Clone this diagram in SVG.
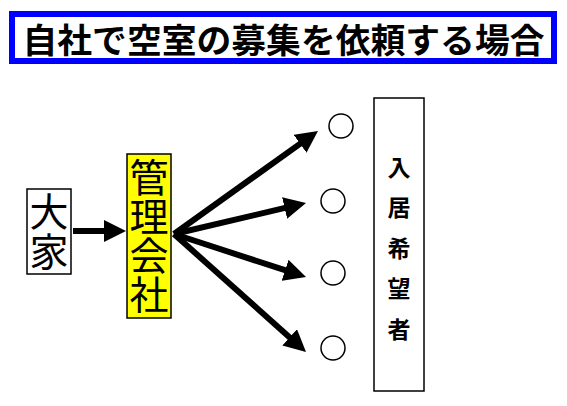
<svg xmlns="http://www.w3.org/2000/svg" width="567" height="406" viewBox="0 0 567 406">
<style>
.jp{font-family:"Noto Sans CJK JP","Noto Sans CJK SC",sans-serif;fill:#000}
.ttl{text-anchor:middle;dominant-baseline:central}
.vt{writing-mode:vertical-rl;text-anchor:start}
.big{font-size:39px}
.vb{font-size:23px;font-weight:bold;letter-spacing:17.5px}
.box{stroke:#000;stroke-width:1.5}
.arr{stroke:#000;stroke-width:6;fill:none;marker-end:url(#ah)}
.dot{fill:#fff;stroke:#000;stroke-width:1.5}
</style>
<defs>
<marker id="ah" markerUnits="userSpaceOnUse" viewBox="0 0 22 22" refX="8" refY="11" markerWidth="22" markerHeight="22" orient="auto">
<path d="M0,0 L22,11 L0,22 z" fill="#000"/>
</marker>
</defs>
<rect width="567" height="406" fill="#fff"/>
<g id="title">
<rect x="12" y="14" width="542" height="47" fill="#fff" stroke="#0000ff" stroke-width="6"/>
<text class="jp ttl" x="283.5" y="38" font-size="34" font-weight="bold" textLength="522" lengthAdjust="spacingAndGlyphs">自社で空室の募集を依頼する場合</text>
</g>
<g id="ooya">
<rect class="box" x="27" y="189" width="44" height="85" fill="#fff"/>
<text class="jp vt big" x="49" y="191.5" style="letter-spacing:1px">大家</text>
</g>
<g id="kanri">
<rect class="box" x="127" y="154" width="44" height="164" fill="#ffff00"/>
<text class="jp vt big" x="149" y="157.5">管理会社</text>
</g>
<g id="nyukyo">
<rect class="box" x="374" y="98" width="50" height="293" fill="#fff"/>
<text class="jp vt vb" x="399" y="155.5">入居希望者</text>
</g>
<g id="c1"><circle class="dot" cx="341" cy="126" r="12"/></g>
<g id="c2"><circle class="dot" cx="333" cy="201" r="12"/></g>
<g id="c3"><circle class="dot" cx="333" cy="273" r="12"/></g>
<g id="c4"><circle class="dot" cx="333" cy="348" r="12"/></g>
<g id="connectors">
<line class="arr" x1="73" y1="231" x2="112" y2="231"/>
<line class="arr" x1="174" y1="234" x2="306.6" y2="139.1"/>
<line class="arr" x1="174" y1="234" x2="292.4" y2="206.2"/>
<line class="arr" x1="174" y1="234" x2="292.7" y2="272.7"/>
<line class="arr" x1="174" y1="234" x2="295.6" y2="342.7"/>
</g>
</svg>
